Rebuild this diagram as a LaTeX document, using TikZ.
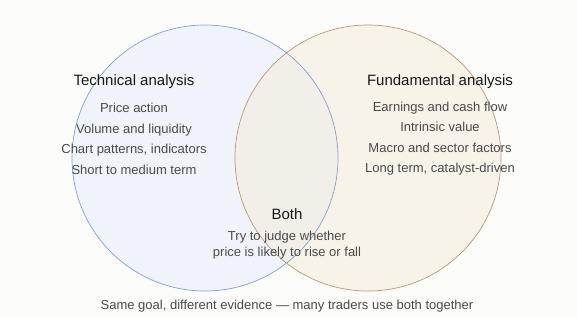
\documentclass[tikz,border=0pt]{standalone}
\usepackage{fontspec}
\setmainfont{Liberation Sans}
\usepackage{xcolor}
\usepackage{tikz}
\usetikzlibrary{positioning}
\definecolor{pagebg}{RGB}{252,252,251}
\definecolor{techfill}{RGB}{240,244,250}
\definecolor{techline}{RGB}{128,160,212}
\definecolor{fundfill}{RGB}{244,236,217}
\definecolor{fundline}{RGB}{186,152,114}
\definecolor{headtext}{RGB}{24,24,24}
\definecolor{itemtext}{RGB}{74,74,74}
\tikzset{
  head/.style={text=headtext, font=\fontsize{15}{17}\selectfont, inner sep=0pt},
  item/.style={text=itemtext, font=\fontsize{13}{15}\selectfont, inner sep=0pt},
  note/.style={text=itemtext, font=\fontsize{13}{16}\selectfont, align=center, inner sep=0pt},
  next/.style={below=20.5pt of #1.base, anchor=base},
}
\begin{document}
\begin{tikzpicture}[x=1pt,y=-1pt]
    \fill[pagebg] (0,0) rectangle (577,317);
    \useasboundingbox (0,0) rectangle (577,317);
    % the two sets
    \fill[techfill] (205,158) circle[radius=133];
    \fill[fundfill, fill opacity=0.5] (368,158) circle[radius=133];
    \draw[techline, line width=0.7pt] (205,158) circle[radius=133];
    \draw[fundline, line width=0.7pt] (368,158) circle[radius=133];
    % left set
    \node[head] (tech) at (134,82) {Technical analysis};
    \node[item] (t1) at (134,108) {Price action};
    \node[item, next=t1] (t2) {Volume and liquidity};
    \node[item, next=t2] (t3) {Chart patterns, indicators};
    \node[item, next=t3] (t4) {Short to medium term};
    % right set
    \node[head] (fund) at (440,82) {Fundamental analysis};
    \node[item] (f1) at (440,108) {Earnings and cash flow};
    \node[item, next=f1] (f2) {Intrinsic value};
    \node[item, next=f2] (f3) {Macro and sector factors};
    \node[item, next=f3] (f4) {Long term, catalyst-driven};
    % overlap
    \node[head] (both) at (287,214) {Both};
    \node[note] (bothtxt) at (287,245) {Try to judge whether\\price is likely to rise or fall};
    % caption
    \node[item] (caption) at (287,306) {Same goal, different evidence — many traders use both together};
  \end{tikzpicture}
\end{document}
